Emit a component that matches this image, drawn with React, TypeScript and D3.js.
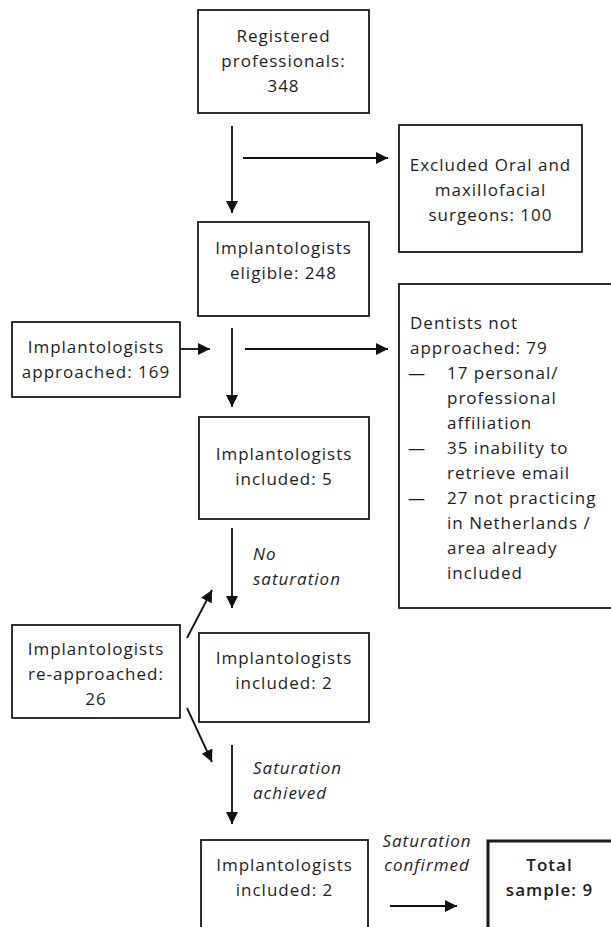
import React from "react";
import * as d3 from "d3";

// ---- content ----
const registered = ["Registered", "professionals:", "348"];
const excluded = ["Excluded Oral and", "maxillofacial", "surgeons: 100"];
const eligible = ["Implantologists", "eligible: 248"];
const approached = ["Implantologists", "approached: 169"];
const included1 = ["Implantologists", "included: 5"];
const reapproached = ["Implantologists", "re-approached:", "26"];
const included2 = ["Implantologists", "included: 2"];
const included3 = ["Implantologists", "included: 2"];
const totalSample = ["Total", "sample: 9"];
const notApprochedHead = ["Dentists not", "approached: 79"];
const notApproachedItems = [
  ["17 personal/", "professional", "affiliation"],
  ["35 inability to", "retrieve email"],
  ["27 not practicing", "in Netherlands /", "area already", "included"],
];
const noSat = ["No", "saturation"];
const satAchieved = ["Saturation", "achieved"];
const satConfirmed = ["Saturation", "confirmed"];

// ---- layout ----
type Box = { x0: number; y0: number; x1: number; y1: number; lines: string[]; first: number; sw?: number };
const boxes: Box[] = [
  { x0: 198, y0: 10, x1: 369, y1: 113, lines: registered, first: 35 },
  { x0: 399, y0: 125, x1: 582, y1: 252, lines: excluded, first: 164 },
  { x0: 198, y0: 222, x1: 369, y1: 316, lines: eligible, first: 247 },
  { x0: 12, y0: 322, x1: 180, y1: 397, lines: approached, first: 346 },
  { x0: 199, y0: 417, x1: 369, y1: 519, lines: included1, first: 453 },
  { x0: 12, y0: 625, x1: 180, y1: 718, lines: reapproached, first: 648 },
  { x0: 199, y0: 633, x1: 369, y1: 722, lines: included2, first: 657 },
  { x0: 201, y0: 840, x1: 368, y1: 940, lines: included3, first: 864 },
  { x0: 488, y0: 841, x1: 640, y1: 940, lines: totalSample, first: 864, sw: 3 },
];

type Arrow = [number, number, number, number];
const arrows: Arrow[] = [
  [232, 126, 232, 213],
  [243, 158, 388, 158],
  [180, 349, 210, 349],
  [232, 328, 232, 407],
  [245, 349, 388, 349],
  [232, 528, 232, 608],
  [187, 638, 212, 590],
  [187, 708, 212, 762],
  [232, 745, 232, 824],
  [390, 906, 457, 906],
];

const FONT = "'Open Sans', 'DejaVu Sans', sans-serif";
const FS = 17;
const LS = 1;
const LH = 25;
const TXT = "#1e1e1e";

export default function App() {
  const W = 611, H = 927;
  const lineY = d3.scaleLinear().domain([0, 1]).range([0, LH]);
  const common = { fontFamily: FONT, fontSize: FS, letterSpacing: LS, fill: TXT, dominantBaseline: "central" as const };
  return (
    <svg width={W} height={H} viewBox={`0 0 ${W} ${H}`}
      style={{ position: "absolute", left: 0, top: 0, background: "#fff" }}>
      <defs>
        <marker id="ah" viewBox="0 0 12 12" refX="12" refY="6" markerWidth="12" markerHeight="12"
          markerUnits="userSpaceOnUse" orient="auto">
          <path d="M0,0 L12,6 L0,12 Z" fill="#111" />
        </marker>
      </defs>
      <rect x={0} y={0} width={W} height={H} fill="#fff" />
      {boxes.map((b, i) => (
        <g key={i}>
          <rect x={b.x0} y={b.y0} width={b.x1 - b.x0} height={b.y1 - b.y0}
            fill="none" stroke="#1a1a1a" strokeWidth={b.sw ?? 1.8} />
          {b.lines.map((t, j) => (
            <text key={j} x={(b.x0 + Math.min(b.x1, 611)) / 2} y={b.first + lineY(j)}
              textAnchor="middle" {...common} fontWeight={b.sw ? 600 : 400}>{t}</text>
          ))}
        </g>
      ))}
      {/* Dentists not approached */}
      <rect x={399} y={284} width={230} height={324} fill="none" stroke="#1a1a1a" strokeWidth={1.8} />
      {(() => {
        const out: React.ReactNode[] = [];
        let row = 0;
        const y0 = 322;
        notApprochedHead.forEach((t, j) => {
          out.push(<text key={"h" + j} x={410} y={y0 + lineY(row++)} {...common}>{t}</text>);
        });
        notApproachedItems.forEach((item, k) => {
          out.push(<text key={"d" + k} x={408} y={y0 + lineY(row)} {...common} letterSpacing={0}>—</text>);
          item.forEach((t, j) => {
            out.push(<text key={"i" + k + "_" + j} x={447} y={y0 + lineY(row++)} {...common}>{t}</text>);
          });
        });
        return out;
      })()}
      {arrows.map((a, i) => (
        <line key={i} x1={a[0]} y1={a[1]} x2={a[2]} y2={a[3]} stroke="#111" strokeWidth={1.8}
          markerEnd="url(#ah)" />
      ))}
      {noSat.map((t, j) => (
        <text key={"ns" + j} x={253} y={553 + lineY(j)} {...common} fontStyle="italic">{t}</text>
      ))}
      {satAchieved.map((t, j) => (
        <text key={"sa" + j} x={253} y={767 + lineY(j)} {...common} fontStyle="italic">{t}</text>
      ))}
      {satConfirmed.map((t, j) => (
        <text key={"sc" + j} x={427} y={840 + 24 * j} textAnchor="middle" {...common}
          fontStyle="italic">{t}</text>
      ))}
    </svg>
  );
}
